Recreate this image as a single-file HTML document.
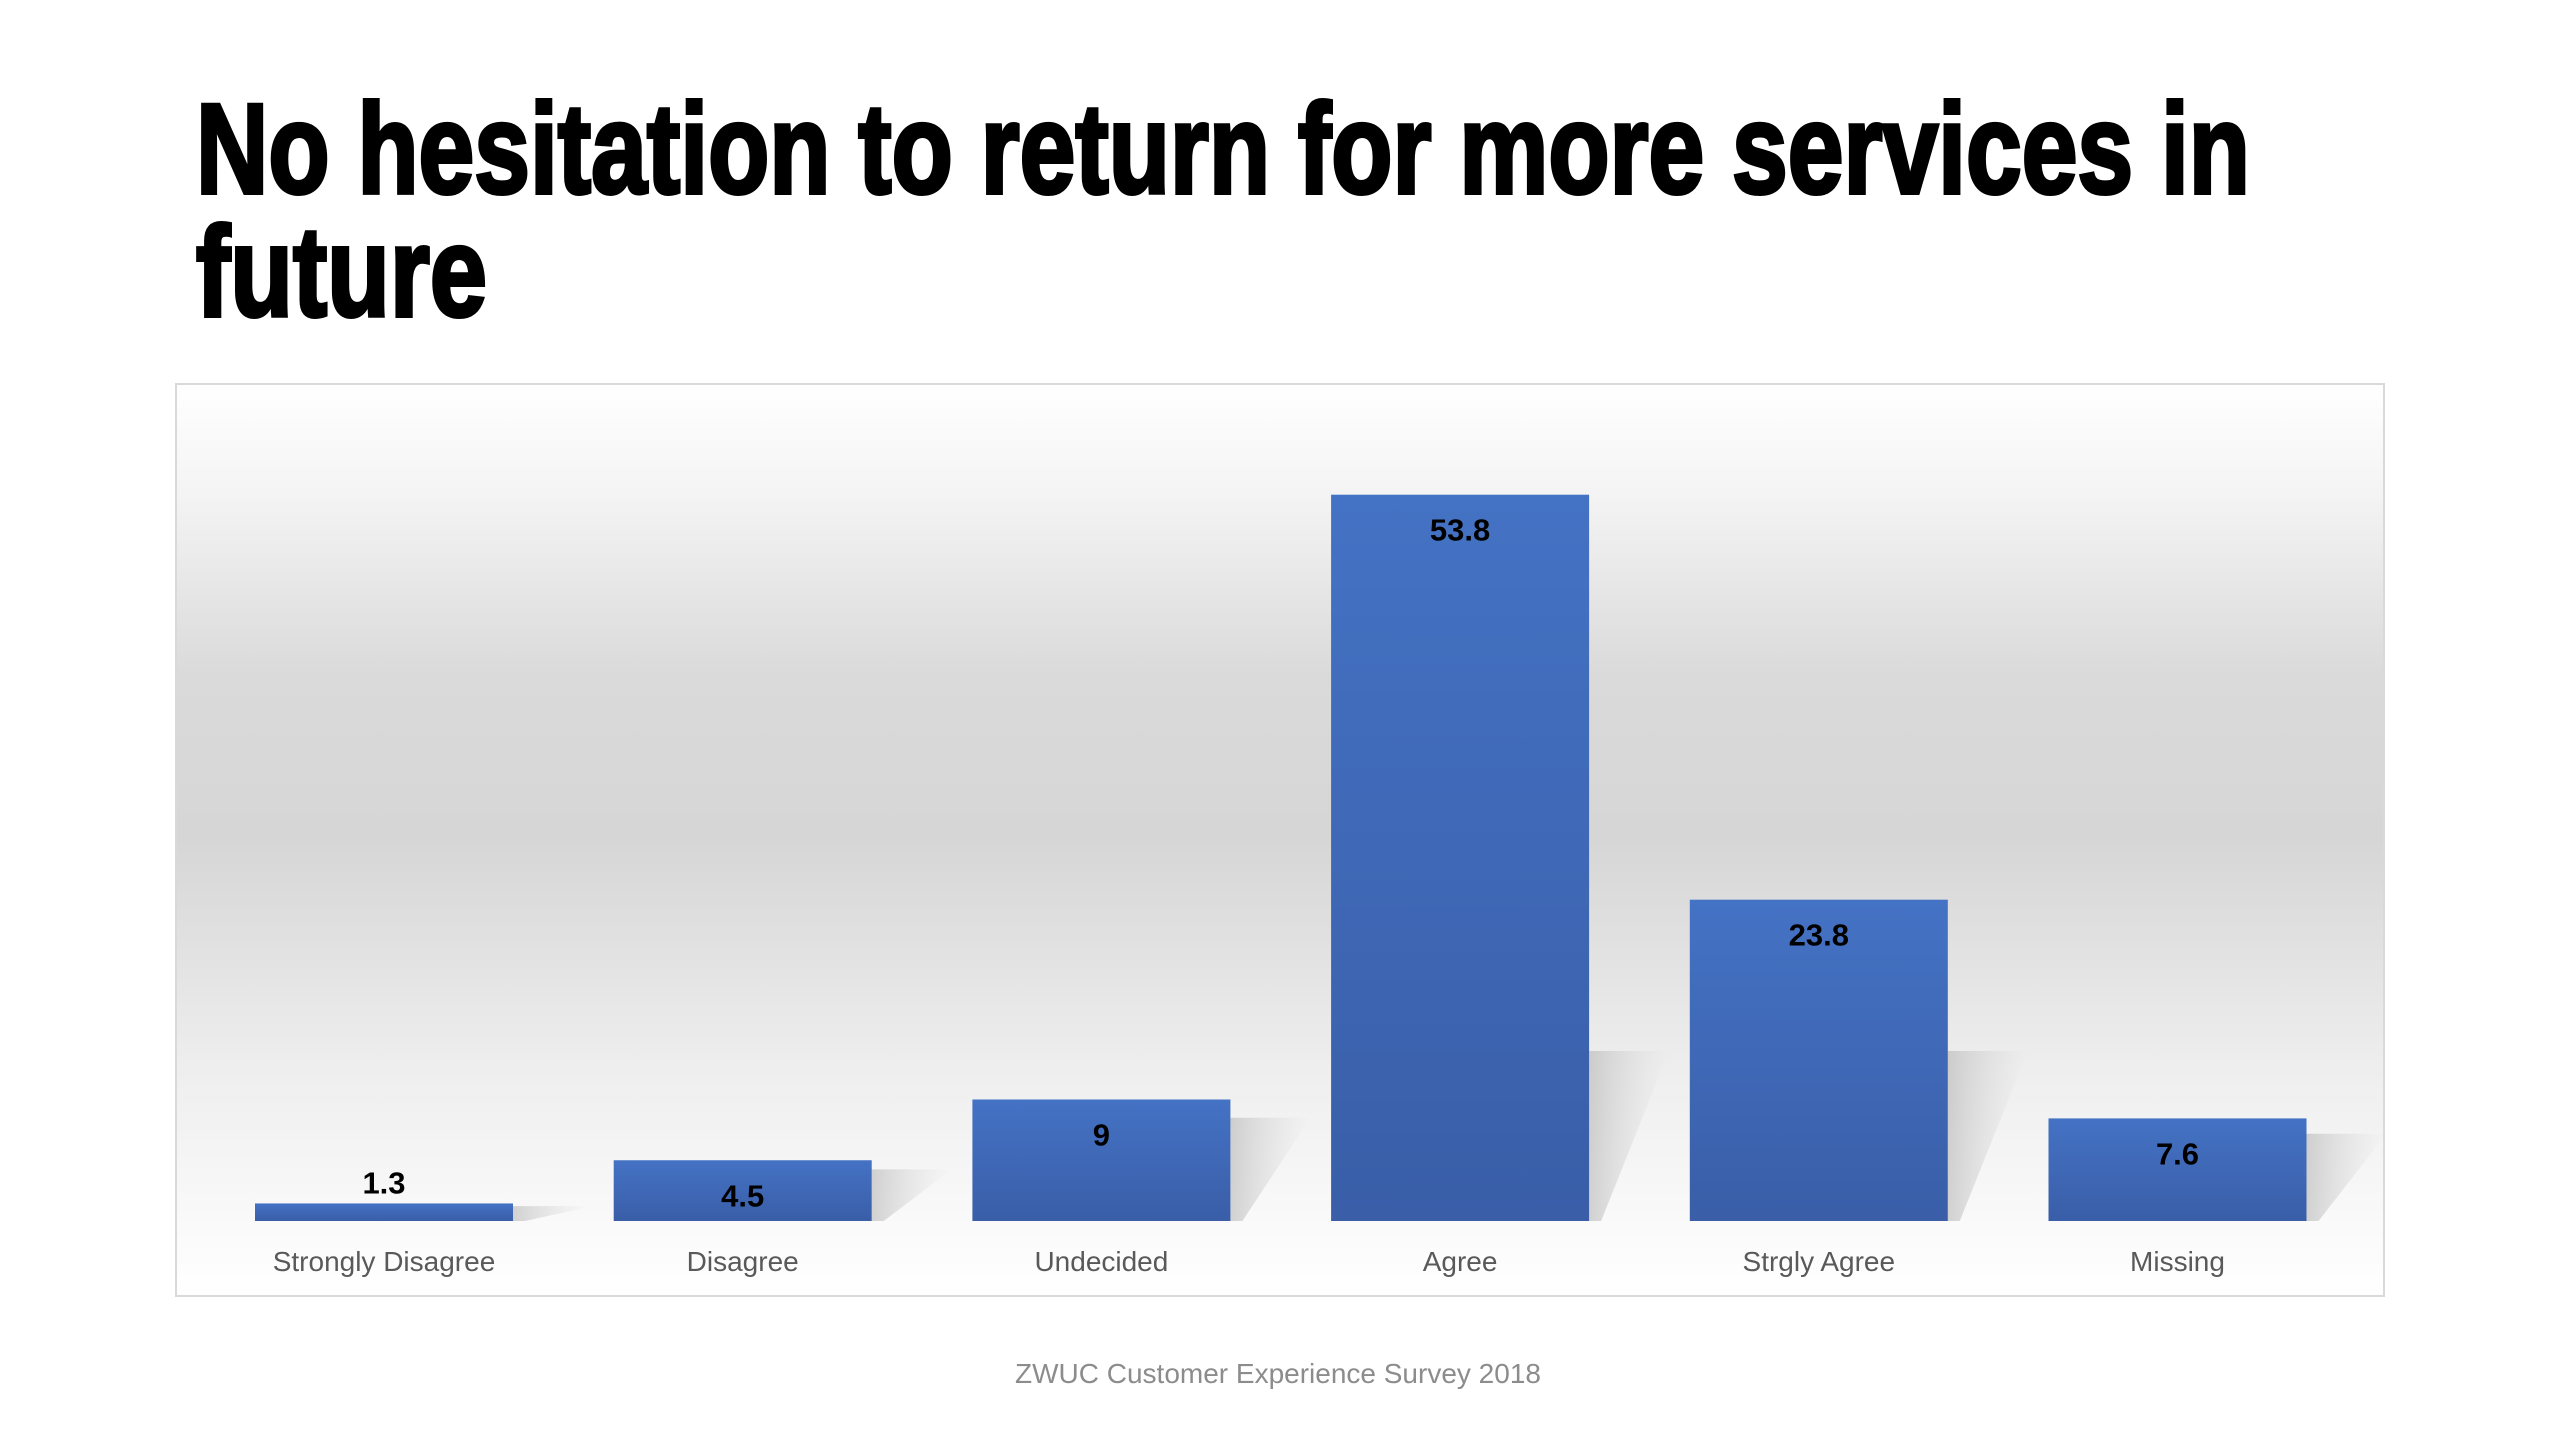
<!DOCTYPE html>
<html><head><meta charset="utf-8">
<style>
html,body{margin:0;padding:0;background:#fff;}
body{width:2560px;height:1440px;overflow:hidden;position:relative;font-family:"Liberation Sans",sans-serif;}
</style></head>
<body>
<svg id="chart" width="2560" height="1440" viewBox="0 0 2560 1440" xmlns="http://www.w3.org/2000/svg">
<defs>
<linearGradient id="bg" x1="0" y1="0" x2="0" y2="1">
<stop offset="0" stop-color="#ffffff"/>
<stop offset="0.12" stop-color="#f4f4f4"/>
<stop offset="0.32" stop-color="#dadada"/>
<stop offset="0.5" stop-color="#d6d6d6"/>
<stop offset="0.75" stop-color="#eeeeee"/>
<stop offset="1" stop-color="#ffffff"/>
</linearGradient>
<linearGradient id="barg" x1="0" y1="0" x2="0" y2="1">
<stop offset="0" stop-color="#4472c4"/>
<stop offset="1" stop-color="#3a5ea8"/>
</linearGradient>
<linearGradient id="shd" x1="0" y1="0" x2="1" y2="0">
<stop offset="0" stop-color="#b0b0b0" stop-opacity="0.55"/>
<stop offset="1" stop-color="#d0d0d0" stop-opacity="0"/>
</linearGradient>
</defs>
<text x="196" y="193" font-family="'Liberation Sans Narrow','Liberation Sans',sans-serif" font-weight="bold" font-size="128" textLength="2054" lengthAdjust="spacingAndGlyphs" fill="#000" stroke="#000" stroke-width="4">No hesitation to return for more services in</text>
<text x="196" y="316" font-family="'Liberation Sans Narrow','Liberation Sans',sans-serif" font-weight="bold" font-size="128" textLength="291" lengthAdjust="spacingAndGlyphs" fill="#000" stroke="#000" stroke-width="4">future</text>
<rect x="176" y="384" width="2208" height="912" fill="url(#bg)" stroke="#d9d9d9" stroke-width="2"/>
<g id="shadows"></g>
<g id="bars"></g>
<g id="labels"></g>
<text x="1278" y="1383" text-anchor="middle" font-size="28" fill="#8c8c8c">ZWUC Customer Experience Survey 2018</text>
</svg>
<script>
const categories = ["Strongly Disagree","Disagree","Undecided","Agree","Strgly Agree","Missing"];
const values = [1.3, 4.5, 9, 53.8, 23.8, 7.6];
const valueLabels = ["1.3","4.5","9","53.8","23.8","7.6"];

const NS = "http://www.w3.org/2000/svg";
const baseline = 1221, pxPerUnit = 13.5;
const firstCenter = 384, step = 358.7, barW = 258;
function xCenter(i){ return firstCenter + i*step; }
function yVal(v){ return baseline - v*pxPerUnit; }

const gB = document.getElementById('bars');
const gS = document.getElementById('shadows');
const gL = document.getElementById('labels');
categories.forEach((c,i)=>{
  const cx = xCenter(i), top = yVal(values[i]);
  const h = baseline - top;
  const sh = document.createElementNS(NS,'polygon');
  const sx = cx + barW/2, sH = Math.min(h*0.85, 170);
  sh.setAttribute('points', `${sx},${baseline} ${sx},${baseline-sH} ${sx+80},${baseline-sH} ${sx+12},${baseline}`);
  sh.setAttribute('fill','url(#shd)');
  
  
  gS.appendChild(sh);
  const r = document.createElementNS(NS,'rect');
  r.setAttribute('x', cx - barW/2);
  r.setAttribute('y', top);
  r.setAttribute('width', barW);
  r.setAttribute('height', h);
  r.setAttribute('fill','url(#barg)');
  
  
  gB.appendChild(r);
  const vl = document.createElementNS(NS,'text');
  vl.setAttribute('x', cx);
  vl.setAttribute('y', h > 60 ? Math.min(top + 46, top + h*0.5 + 18) : top - 10);
  vl.setAttribute('text-anchor','middle');
  vl.setAttribute('font-size','31');
  vl.setAttribute('font-weight','bold');
  vl.setAttribute('fill','#000');
  vl.textContent = valueLabels[i];
  
  
  gL.appendChild(vl);
  const cl = document.createElementNS(NS,'text');
  cl.setAttribute('x', cx);
  cl.setAttribute('y', 1271);
  cl.setAttribute('text-anchor','middle');
  cl.setAttribute('font-size','28');
  cl.setAttribute('fill','#595959');
  cl.textContent = c;
  
  
  gL.appendChild(cl);
});
</script>
</body></html>
